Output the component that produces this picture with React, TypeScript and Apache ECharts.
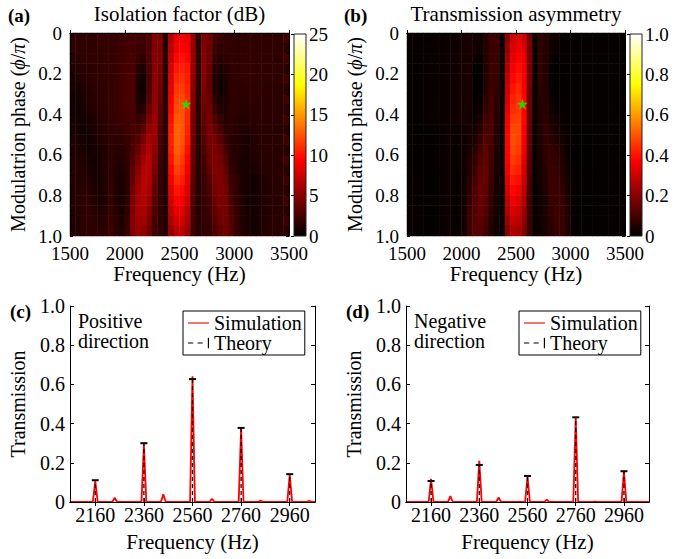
import React, { useEffect, useRef } from 'react';
import * as echarts from 'echarts';

const SERIF = 'Liberation Serif';

// ---------- Heat-map data (panels a, b) ----------
// column centre frequencies (Hz) and row centre phases (phi/pi)
const heatFreqs = [1525, 1575, 1625, 1675, 1725, 1775, 1825, 1875, 1925, 1975, 2025, 2075, 2125, 2175, 2225, 2275, 2325, 2375, 2425, 2475, 2525, 2575, 2625, 2675, 2725, 2775, 2825, 2875, 2925, 2975, 3025, 3075, 3125, 3175, 3225, 3275, 3325, 3375, 3425, 3475];
const heatPhases = [0.025, 0.075, 0.125, 0.175, 0.225, 0.275, 0.325, 0.375, 0.425, 0.475, 0.525, 0.575, 0.625, 0.675, 0.725, 0.775, 0.825, 0.875, 0.925, 0.975];

// (a) Isolation factor (dB), rows = phase, columns = frequency
const isolationDb: number[][] = [
  [1.7, 1.7, 1.7, 1.7, 1.7, 1.9, 1.9, 1.9, 2.0, 2.2, 2.3, 2.4, 2.3, 2.4, 3.0, 4.6, 4.6, 1.3, 6.5, 8.5, 9.0, 8.5, 5.5, 1.5, 4.6, 4.0, 2.6, 2.0, 1.8, 1.8, 1.7, 1.7, 1.7, 1.7, 1.7, 1.7, 1.7, 1.7, 1.7, 2.4],
  [1.7, 1.7, 1.7, 1.7, 1.7, 1.9, 1.9, 1.9, 2.0, 2.2, 2.5, 2.5, 2.2, 2.2, 3.0, 4.7, 4.7, 1.3, 7.0, 9.0, 9.5, 9.0, 5.6, 1.5, 4.8, 4.0, 2.3, 1.8, 1.8, 1.8, 1.7, 1.7, 1.8, 1.8, 1.7, 1.7, 1.7, 1.7, 1.7, 1.5],
  [1.5, 1.5, 1.6, 1.7, 1.7, 1.8, 1.9, 1.9, 2.0, 2.2, 2.5, 2.6, 1.9, 1.7, 3.0, 4.8, 4.7, 1.3, 7.4, 9.6, 10.2, 9.5, 5.6, 1.5, 4.9, 4.0, 2.0, 1.4, 1.6, 1.8, 1.7, 1.8, 1.8, 1.8, 1.7, 1.7, 1.7, 1.7, 1.7, 2.4],
  [1.3, 1.4, 1.5, 1.6, 1.7, 1.8, 1.9, 1.9, 2.0, 2.3, 2.6, 2.7, 1.5, 1.1, 2.9, 4.9, 4.6, 1.3, 7.8, 10.2, 10.7, 10.0, 5.5, 1.5, 4.9, 3.8, 1.6, 1.0, 1.3, 1.8, 1.7, 1.8, 1.8, 1.8, 1.7, 1.7, 1.7, 1.7, 1.7, 1.5],
  [1.0, 1.2, 1.4, 1.5, 1.7, 1.8, 1.9, 1.9, 2.1, 2.4, 2.7, 2.8, 1.1, 0.7, 2.8, 5.0, 4.4, 1.3, 8.2, 10.8, 11.2, 10.3, 5.3, 1.5, 4.8, 3.6, 1.3, 0.7, 1.1, 1.7, 1.7, 1.7, 1.8, 1.8, 1.7, 1.7, 1.7, 1.7, 1.7, 2.4],
  [0.9, 0.9, 1.2, 1.4, 1.6, 1.7, 1.8, 1.9, 2.1, 2.4, 2.7, 2.8, 0.9, 0.6, 2.9, 5.1, 4.2, 1.3, 8.6, 11.3, 11.6, 10.6, 5.1, 1.5, 4.6, 3.6, 1.3, 0.6, 1.0, 1.7, 1.6, 1.6, 1.7, 1.7, 1.7, 1.7, 1.6, 1.6, 1.6, 1.5],
  [0.7, 0.8, 1.0, 1.3, 1.5, 1.7, 1.8, 1.9, 2.1, 2.4, 2.7, 2.8, 1.0, 0.8, 3.2, 5.3, 3.9, 1.3, 9.0, 11.8, 12.0, 10.8, 4.9, 1.5, 4.3, 3.8, 1.6, 0.8, 1.1, 1.7, 1.6, 1.6, 1.6, 1.7, 1.7, 1.6, 1.6, 1.6, 1.6, 2.4],
  [0.7, 0.7, 0.9, 1.1, 1.4, 1.6, 1.7, 1.9, 2.1, 2.3, 2.6, 2.7, 1.4, 1.5, 3.8, 5.6, 3.6, 1.3, 9.4, 12.2, 12.3, 10.9, 4.7, 1.5, 4.0, 4.0, 2.2, 1.3, 1.2, 1.7, 1.6, 1.5, 1.5, 1.6, 1.6, 1.6, 1.6, 1.6, 1.6, 1.5],
  [0.9, 0.7, 0.8, 0.9, 1.2, 1.5, 1.7, 1.8, 2.0, 2.2, 2.5, 2.6, 2.0, 2.5, 4.6, 5.8, 3.3, 1.3, 9.8, 12.6, 12.5, 10.8, 4.5, 1.5, 3.7, 4.3, 2.9, 1.9, 1.4, 1.6, 1.5, 1.4, 1.4, 1.5, 1.6, 1.6, 1.6, 1.6, 1.6, 2.4],
  [1.0, 0.9, 0.7, 0.8, 1.0, 1.4, 1.6, 1.7, 1.8, 1.9, 2.2, 2.5, 2.6, 3.4, 5.4, 5.8, 3.0, 1.3, 10.2, 12.9, 12.6, 10.6, 4.3, 1.5, 3.4, 4.4, 3.6, 2.6, 1.6, 1.6, 1.4, 1.3, 1.3, 1.4, 1.5, 1.5, 1.5, 1.5, 1.5, 1.5],
  [1.2, 1.0, 0.8, 0.7, 0.9, 1.2, 1.5, 1.7, 1.6, 1.7, 2.0, 2.6, 3.2, 4.4, 6.0, 5.6, 2.8, 1.3, 10.4, 13.0, 12.5, 10.3, 4.1, 1.5, 3.1, 4.4, 4.2, 3.3, 2.0, 1.5, 1.4, 1.1, 1.0, 1.2, 1.4, 1.5, 1.5, 1.5, 1.5, 2.4],
  [1.3, 1.2, 0.9, 0.7, 0.8, 1.0, 1.4, 1.7, 1.5, 1.5, 1.9, 2.7, 3.8, 5.3, 6.4, 5.3, 2.6, 1.3, 10.3, 12.8, 12.2, 9.9, 3.9, 1.5, 2.8, 4.2, 4.6, 3.9, 2.5, 1.5, 1.4, 1.1, 1.0, 1.2, 1.4, 1.5, 1.5, 1.5, 1.5, 1.5],
  [1.4, 1.3, 1.1, 0.9, 0.7, 0.9, 1.4, 1.7, 1.4, 1.2, 1.8, 3.0, 4.4, 6.0, 6.6, 4.9, 2.4, 1.3, 10.0, 12.3, 11.7, 9.4, 3.7, 1.5, 2.5, 3.9, 4.8, 4.3, 3.0, 1.6, 1.4, 1.0, 0.9, 1.1, 1.4, 1.5, 1.5, 1.5, 1.5, 2.4],
  [1.4, 1.4, 1.3, 1.0, 0.8, 0.9, 1.3, 1.8, 1.3, 1.0, 1.7, 3.4, 5.0, 6.5, 6.6, 4.5, 2.2, 1.3, 9.5, 11.7, 11.1, 8.9, 3.5, 1.5, 2.3, 3.5, 4.8, 4.6, 3.5, 1.8, 1.4, 1.0, 0.9, 1.0, 1.3, 1.5, 1.5, 1.5, 1.5, 1.5],
  [1.4, 1.4, 1.4, 1.2, 0.9, 0.9, 1.2, 1.8, 1.2, 0.9, 1.6, 3.8, 5.5, 6.8, 6.4, 4.1, 2.1, 1.3, 9.0, 11.0, 10.4, 8.4, 3.3, 1.5, 2.1, 3.1, 4.6, 4.7, 3.9, 2.1, 1.7, 1.1, 0.8, 0.7, 0.9, 1.2, 1.4, 1.5, 1.5, 2.4],
  [1.3, 1.4, 1.5, 1.4, 1.1, 1.0, 1.2, 1.9, 1.2, 0.9, 1.6, 4.2, 5.8, 6.8, 6.0, 3.7, 2.0, 1.3, 8.4, 10.2, 9.7, 7.9, 3.1, 1.5, 2.0, 2.8, 4.3, 4.7, 4.2, 2.4, 1.7, 1.1, 0.8, 0.7, 0.9, 1.2, 1.4, 1.5, 1.5, 1.5],
  [1.3, 1.4, 1.6, 1.6, 1.3, 1.0, 1.3, 1.9, 1.3, 0.9, 1.7, 4.5, 6.0, 6.6, 5.5, 3.3, 1.9, 1.3, 7.7, 9.4, 9.0, 7.4, 2.9, 1.5, 1.9, 2.5, 3.9, 4.5, 4.3, 2.7, 1.8, 1.2, 0.8, 0.7, 0.9, 1.2, 1.4, 1.5, 1.5, 2.4],
  [1.3, 1.4, 1.6, 1.7, 1.5, 1.2, 1.4, 2.0, 1.4, 1.0, 1.8, 4.7, 6.0, 6.3, 5.0, 2.9, 1.8, 1.3, 7.0, 8.6, 8.3, 6.8, 2.7, 1.5, 1.8, 2.3, 3.5, 4.3, 4.3, 2.9, 1.9, 1.2, 0.8, 0.7, 0.9, 1.2, 1.4, 1.5, 1.5, 1.5],
  [1.2, 1.3, 1.6, 1.7, 1.6, 1.4, 1.6, 2.1, 1.5, 1.0, 2.0, 4.8, 5.8, 5.8, 4.5, 2.6, 1.8, 1.3, 6.3, 7.8, 7.6, 6.2, 2.5, 1.5, 1.8, 2.1, 3.2, 4.0, 4.2, 3.0, 2.0, 1.3, 0.9, 0.7, 0.9, 1.2, 1.4, 1.5, 1.5, 2.4],
  [1.2, 1.3, 1.6, 1.7, 1.7, 1.6, 1.7, 2.2, 1.6, 1.2, 2.1, 4.7, 5.5, 5.3, 4.1, 2.4, 1.8, 1.3, 5.6, 7.0, 6.9, 5.6, 2.3, 1.5, 1.8, 2.0, 2.9, 3.6, 4.0, 3.0, 2.0, 1.3, 0.9, 0.7, 0.9, 1.2, 1.4, 1.5, 1.5, 1.5],
];

// (b) Transmission asymmetry
const asymmetry: number[][] = [
  [0.012, 0.012, 0.012, 0.012, 0.012, 0.015, 0.016, 0.018, 0.02, 0.024, 0.028, 0.035, 0.03, 0.03, 0.05, 0.085, 0.09, 0.015, 0.20, 0.30, 0.33, 0.30, 0.17, 0.015, 0.07, 0.055, 0.03, 0.02, 0.012, 0.012, 0.01, 0.01, 0.01, 0.01, 0.01, 0.01, 0.01, 0.01, 0.01, 0.012],
  [0.012, 0.012, 0.012, 0.012, 0.012, 0.015, 0.016, 0.018, 0.02, 0.024, 0.028, 0.035, 0.03, 0.02, 0.05, 0.085, 0.09, 0.015, 0.22, 0.32, 0.35, 0.32, 0.18, 0.015, 0.075, 0.055, 0.025, 0.015, 0.012, 0.012, 0.01, 0.01, 0.01, 0.01, 0.01, 0.01, 0.01, 0.01, 0.01, 0.008],
  [0.008, 0.008, 0.01, 0.012, 0.013, 0.015, 0.016, 0.02, 0.024, 0.028, 0.032, 0.035, 0.02, 0.01, 0.05, 0.085, 0.09, 0.015, 0.24, 0.34, 0.37, 0.34, 0.18, 0.015, 0.075, 0.052, 0.02, 0.01, 0.01, 0.012, 0.01, 0.01, 0.01, 0.01, 0.01, 0.01, 0.01, 0.01, 0.01, 0.012],
  [0.008, 0.008, 0.01, 0.012, 0.013, 0.015, 0.016, 0.02, 0.024, 0.028, 0.032, 0.035, 0.01, 0.008, 0.05, 0.09, 0.085, 0.015, 0.26, 0.36, 0.39, 0.35, 0.175, 0.015, 0.075, 0.05, 0.015, 0.005, 0.008, 0.012, 0.01, 0.01, 0.01, 0.01, 0.01, 0.01, 0.01, 0.01, 0.01, 0.008],
  [0.008, 0.008, 0.01, 0.012, 0.013, 0.015, 0.016, 0.02, 0.024, 0.028, 0.032, 0.035, 0.008, 0.0, 0.05, 0.09, 0.08, 0.015, 0.28, 0.38, 0.41, 0.36, 0.17, 0.015, 0.072, 0.048, 0.012, 0.004, 0.007, 0.012, 0.01, 0.01, 0.01, 0.01, 0.01, 0.01, 0.01, 0.01, 0.01, 0.012],
  [0.008, 0.008, 0.01, 0.012, 0.013, 0.015, 0.016, 0.02, 0.024, 0.028, 0.032, 0.035, 0.008, 0.0, 0.055, 0.095, 0.075, 0.015, 0.30, 0.40, 0.43, 0.37, 0.165, 0.015, 0.068, 0.05, 0.014, 0.005, 0.007, 0.012, 0.01, 0.01, 0.01, 0.01, 0.01, 0.01, 0.01, 0.01, 0.01, 0.008],
  [0.008, 0.008, 0.01, 0.012, 0.013, 0.015, 0.016, 0.02, 0.024, 0.028, 0.032, 0.035, 0.01, 0.01, 0.065, 0.10, 0.07, 0.015, 0.32, 0.42, 0.45, 0.38, 0.16, 0.015, 0.062, 0.055, 0.02, 0.008, 0.008, 0.012, 0.01, 0.01, 0.01, 0.01, 0.01, 0.01, 0.01, 0.01, 0.01, 0.012],
  [0.008, 0.008, 0.01, 0.012, 0.013, 0.015, 0.016, 0.02, 0.024, 0.028, 0.032, 0.03, 0.015, 0.02, 0.08, 0.105, 0.065, 0.015, 0.34, 0.44, 0.46, 0.38, 0.155, 0.015, 0.056, 0.06, 0.03, 0.014, 0.01, 0.012, 0.01, 0.01, 0.01, 0.01, 0.01, 0.01, 0.01, 0.01, 0.01, 0.008],
  [0.008, 0.008, 0.01, 0.012, 0.013, 0.015, 0.016, 0.02, 0.024, 0.028, 0.032, 0.03, 0.022, 0.04, 0.095, 0.11, 0.06, 0.015, 0.36, 0.46, 0.47, 0.38, 0.15, 0.015, 0.052, 0.066, 0.042, 0.024, 0.014, 0.012, 0.01, 0.01, 0.01, 0.01, 0.01, 0.01, 0.01, 0.01, 0.01, 0.012],
  [0.01, 0.008, 0.006, 0.006, 0.008, 0.012, 0.016, 0.02, 0.016, 0.014, 0.025, 0.03, 0.034, 0.06, 0.11, 0.11, 0.055, 0.015, 0.37, 0.48, 0.48, 0.37, 0.14, 0.015, 0.048, 0.07, 0.055, 0.036, 0.02, 0.012, 0.01, 0.01, 0.01, 0.01, 0.01, 0.01, 0.01, 0.01, 0.01, 0.008],
  [0.01, 0.008, 0.006, 0.006, 0.008, 0.012, 0.016, 0.02, 0.016, 0.014, 0.025, 0.032, 0.045, 0.08, 0.125, 0.105, 0.05, 0.015, 0.38, 0.49, 0.47, 0.36, 0.135, 0.015, 0.044, 0.072, 0.066, 0.048, 0.028, 0.014, 0.01, 0.008, 0.008, 0.008, 0.01, 0.01, 0.01, 0.01, 0.01, 0.012],
  [0.01, 0.008, 0.006, 0.006, 0.008, 0.012, 0.016, 0.02, 0.016, 0.014, 0.025, 0.036, 0.058, 0.1, 0.135, 0.1, 0.045, 0.015, 0.38, 0.48, 0.46, 0.35, 0.13, 0.015, 0.04, 0.07, 0.075, 0.06, 0.038, 0.016, 0.01, 0.008, 0.008, 0.008, 0.01, 0.01, 0.01, 0.01, 0.01, 0.008],
  [0.01, 0.008, 0.006, 0.006, 0.008, 0.012, 0.016, 0.02, 0.016, 0.014, 0.025, 0.042, 0.072, 0.12, 0.14, 0.095, 0.04, 0.015, 0.37, 0.46, 0.44, 0.33, 0.125, 0.015, 0.036, 0.066, 0.08, 0.07, 0.048, 0.02, 0.01, 0.008, 0.008, 0.008, 0.01, 0.01, 0.01, 0.01, 0.01, 0.012],
  [0.01, 0.008, 0.006, 0.006, 0.008, 0.012, 0.016, 0.02, 0.016, 0.014, 0.025, 0.05, 0.088, 0.135, 0.145, 0.09, 0.04, 0.015, 0.35, 0.44, 0.42, 0.31, 0.12, 0.015, 0.033, 0.06, 0.084, 0.078, 0.056, 0.025, 0.011, 0.008, 0.007, 0.007, 0.009, 0.01, 0.011, 0.012, 0.012, 0.008],
  [0.012, 0.012, 0.01, 0.008, 0.008, 0.01, 0.016, 0.022, 0.016, 0.01, 0.028, 0.06, 0.1, 0.145, 0.145, 0.085, 0.035, 0.015, 0.33, 0.41, 0.39, 0.29, 0.11, 0.015, 0.03, 0.055, 0.085, 0.085, 0.065, 0.03, 0.012, 0.008, 0.006, 0.006, 0.008, 0.01, 0.011, 0.012, 0.012, 0.012],
  [0.012, 0.012, 0.01, 0.008, 0.008, 0.01, 0.016, 0.022, 0.016, 0.01, 0.028, 0.07, 0.112, 0.15, 0.14, 0.075, 0.035, 0.015, 0.31, 0.38, 0.36, 0.27, 0.10, 0.015, 0.028, 0.05, 0.082, 0.09, 0.072, 0.036, 0.012, 0.008, 0.006, 0.006, 0.008, 0.01, 0.011, 0.012, 0.012, 0.008],
  [0.012, 0.012, 0.01, 0.008, 0.008, 0.01, 0.016, 0.022, 0.016, 0.01, 0.028, 0.08, 0.12, 0.15, 0.13, 0.07, 0.03, 0.015, 0.28, 0.35, 0.33, 0.25, 0.095, 0.015, 0.026, 0.046, 0.076, 0.09, 0.078, 0.042, 0.012, 0.008, 0.006, 0.006, 0.008, 0.01, 0.011, 0.012, 0.012, 0.012],
  [0.012, 0.012, 0.01, 0.008, 0.008, 0.01, 0.016, 0.022, 0.016, 0.01, 0.028, 0.085, 0.125, 0.145, 0.12, 0.065, 0.03, 0.015, 0.26, 0.32, 0.30, 0.23, 0.09, 0.015, 0.024, 0.042, 0.07, 0.088, 0.082, 0.047, 0.012, 0.008, 0.006, 0.006, 0.008, 0.01, 0.011, 0.012, 0.012, 0.008],
  [0.012, 0.012, 0.01, 0.008, 0.008, 0.01, 0.016, 0.022, 0.016, 0.01, 0.028, 0.09, 0.125, 0.135, 0.11, 0.055, 0.03, 0.015, 0.23, 0.29, 0.27, 0.21, 0.085, 0.015, 0.022, 0.04, 0.065, 0.084, 0.084, 0.05, 0.012, 0.008, 0.006, 0.006, 0.008, 0.01, 0.011, 0.012, 0.012, 0.012],
  [0.012, 0.012, 0.01, 0.008, 0.008, 0.01, 0.016, 0.022, 0.016, 0.01, 0.028, 0.09, 0.12, 0.125, 0.1, 0.05, 0.03, 0.015, 0.20, 0.26, 0.25, 0.19, 0.08, 0.015, 0.02, 0.038, 0.06, 0.078, 0.082, 0.052, 0.012, 0.008, 0.006, 0.006, 0.008, 0.01, 0.011, 0.012, 0.012, 0.008],
];

const heatFreqTicks = [1500, 2000, 2500, 3000, 3500];
const operatingPoint = [2560, 0.35]; // green star (Hz, phi/pi)

// ---------- Transmission spectra (panels c, d) ----------
const stemFreqs = [2160, 2360, 2560, 2760, 2960];
const theoryPositive = [0.111, 0.300, 0.627, 0.378, 0.142];
const theoryNegative = [0.107, 0.189, 0.133, 0.432, 0.157];

const simFreqs = [2056, 2150, 2160, 2170, 2230, 2240, 2250, 2350, 2360, 2370, 2430, 2440, 2450, 2550, 2560, 2570, 2630, 2640, 2650, 2750, 2760, 2770, 2830, 2840, 2850, 2950, 2960, 2970, 3030, 3040, 3050, 3064];
const simPositive = [0, 0, 0.107, 0, 0, 0.022, 0, 0, 0.294, 0, 0, 0.039, 0, 0, 0.641, 0, 0, 0.017, 0, 0, 0.375, 0, 0, 0.008, 0, 0, 0.140, 0, 0, 0.006, 0, 0];
const simNegative = [0, 0, 0.118, 0, 0, 0.030, 0, 0, 0.210, 0, 0, 0.023, 0, 0, 0.130, 0, 0, 0.012, 0, 0, 0.430, 0, 0, 0.002, 0, 0, 0.155, 0, 0, 0.001, 0, 0];
const spectrumTicks = [2160, 2360, 2560, 2760, 2960];

// MATLAB "hot" colormap (evenly spaced stops)
const HOT = ['#000000', '#550000', '#aa0000', '#ff0000', '#ff5500', '#ffaa00', '#ffff00', '#ffff80', '#ffffff'];

const STAR = 'path://M50,0L61.8,35.1L98.9,35.1L68.9,56.8L80.3,91.9L50,70.2L19.7,91.9L31.1,56.8L1.1,35.1L38.2,35.1Z';
const SIM_ICON = 'path://M0,6.3H30V7.9H0Z';
const THEORY_ICON = 'path://M0,6.3H7V7.7H0Z M13,6.3H20V7.7H13Z M27,0H28.6V14H27Z';

const fmt1 = (v: number) => (v === 0 ? '0' : v.toFixed(1));
const fmtInt = (v: number) => String(Math.round(v));

function heatData(grid: number[][]) {
  const out: number[][] = [];
  grid.forEach((row, j) => row.forEach((v, k) => out.push([k, j, v])));
  return out;
}

const BLACK = '#000';
const line = { show: true, lineStyle: { color: BLACK, width: 1 } };

function buildOption() {
  const panels = [
    { left: 70, width: 219, cbLeft: 294, max: 25, interval: 5, cbFmt: fmtInt },
    { left: 407, width: 218, cbLeft: 630, max: 1, interval: 0.2, cbFmt: fmt1 },
  ];
  const grids: any[] = [];
  const xAxes: any[] = [];
  const yAxes: any[] = [];
  const series: any[] = [];
  const visualMaps: any[] = [];

  panels.forEach((p, i) => {
    const gCat = grids.length;
    grids.push({ left: p.left, top: 33, width: p.width, height: 203, show: false });
    const gVal = grids.length;
    grids.push({ left: p.left, top: 33, width: p.width, height: 203, show: false });
    const gCb = grids.length;
    grids.push({
      left: p.cbLeft, top: 34, width: 12, height: 202, show: true,
      borderColor: '#222', borderWidth: 1,
      backgroundColor: new echarts.graphic.LinearGradient(0, 0, 0, 1, [
        { offset: 0, color: '#ffffff' },
        { offset: 0.25, color: '#ffff00' },
        { offset: 0.625, color: '#ff0000' },
        { offset: 1, color: '#000000' },
      ]),
    });

    const xCat = xAxes.length;
    xAxes.push({ type: 'category', gridIndex: gCat, data: heatFreqs, show: false });
    const yCat = yAxes.length;
    yAxes.push({ type: 'category', gridIndex: gCat, data: heatPhases, inverse: true, show: false });

    const xVal = xAxes.length;
    xAxes.push({
      type: 'value', gridIndex: gVal, min: heatFreqTicks[0], max: heatFreqTicks[heatFreqTicks.length - 1], interval: 500,
      position: 'bottom', z: 10, axisLine: line,
      axisTick: { show: true, inside: true, length: 3, lineStyle: { color: BLACK } },
      axisLabel: { color: BLACK, fontSize: 19, fontFamily: SERIF, margin: 8, formatter: fmtInt },
      splitLine: { show: false },
      name: 'Frequency (Hz)', nameLocation: 'middle', nameGap: 27,
      nameTextStyle: { color: BLACK, fontSize: 21, fontFamily: SERIF },
    });
    xAxes.push({
      type: 'value', gridIndex: gVal, min: 1500, max: 3500, interval: 500, position: 'top', z: 10,
      axisLine: line, axisTick: { show: true, inside: true, length: 3, lineStyle: { color: BLACK } },
      axisLabel: { show: false }, splitLine: { show: false },
    });
    const yVal = yAxes.length;
    yAxes.push({
      type: 'value', gridIndex: gVal, min: 0, max: 1, interval: 0.2, inverse: true, position: 'left', z: 10,
      axisLine: line, axisTick: { show: true, inside: true, length: 3, lineStyle: { color: BLACK } },
      minorTick: { show: true, splitNumber: 2, length: 3, lineStyle: { color: BLACK } },
      axisLabel: { color: BLACK, fontSize: 19, fontFamily: SERIF, margin: 8, formatter: fmt1 },
      splitLine: { show: false },
      name: 'Modulatrion phase ({i|ϕ}/{i|π})', nameLocation: 'middle', nameGap: 42,
      nameTextStyle: {
        color: BLACK, fontSize: 20, fontFamily: SERIF,
        rich: { i: { fontStyle: 'italic', fontSize: 20, fontFamily: SERIF, color: BLACK } },
      },
    });
    yAxes.push({
      type: 'value', gridIndex: gVal, min: 0, max: 1, interval: 0.2, inverse: true, position: 'right', z: 10,
      axisLine: line, axisTick: { show: true, inside: true, length: 3, lineStyle: { color: BLACK } },
      minorTick: { show: true, splitNumber: 2, length: 3, lineStyle: { color: BLACK } },
      axisLabel: { show: false }, splitLine: { show: false },
    });

    xAxes.push({ type: 'value', gridIndex: gCb, show: false, min: 0, max: 1 });
    yAxes.push({
      type: 'value', gridIndex: gCb, min: 0, max: p.max, interval: p.interval, position: 'right', z: 10,
      axisLine: { show: false },
      axisTick: { show: true, inside: true, length: 3, lineStyle: { color: BLACK } },
      axisLabel: { color: BLACK, fontSize: 19, fontFamily: SERIF, margin: 3, formatter: p.cbFmt },
      splitLine: { show: false },
    });

    visualMaps.push({
      type: 'continuous', show: false, min: 0, max: p.max, dimension: 2,
      seriesIndex: series.length, inRange: { color: HOT },
    });
    series.push({
      type: 'heatmap', xAxisIndex: xCat, yAxisIndex: yCat,
      data: heatData(i === 0 ? isolationDb : asymmetry),
      silent: true, emphasis: { disabled: true }, progressive: 0,
    });
    series.push({
      type: 'scatter', xAxisIndex: xVal, yAxisIndex: yVal, z: 20,
      data: [operatingPoint], symbol: STAR, symbolSize: 11,
      itemStyle: { color: '#00ff00' }, silent: true,
    });
  });

  const bottom = [
    { left: 70, width: 245, sim: simPositive, theory: theoryPositive, legendLeft: 183 },
    { left: 406, width: 243, sim: simNegative, theory: theoryNegative, legendLeft: 519 },
  ];
  const legends: any[] = [];
  bottom.forEach((b) => {
    const g = grids.length;
    grids.push({ left: b.left, top: 306, width: b.width, height: 196, show: false });
    const xi = xAxes.length;
    xAxes.push({
      type: 'value', gridIndex: g, min: simFreqs[0], max: simFreqs[simFreqs.length - 1], position: 'bottom', z: 10,
      axisLine: line,
      axisTick: { show: true, inside: true, length: 4, customValues: spectrumTicks, lineStyle: { color: BLACK } },
      axisLabel: { color: BLACK, fontSize: 20, fontFamily: SERIF, margin: 3, customValues: spectrumTicks, formatter: fmtInt },
      splitLine: { show: false },
      name: 'Frequency (Hz)', nameLocation: 'middle', nameGap: 29,
      nameTextStyle: { color: BLACK, fontSize: 21, fontFamily: SERIF },
    });
    xAxes.push({
      type: 'value', gridIndex: g, min: simFreqs[0], max: simFreqs[simFreqs.length - 1], position: 'top', z: 10,
      axisLine: line,
      axisTick: { show: true, inside: true, length: 4, customValues: spectrumTicks, lineStyle: { color: BLACK } },
      axisLabel: { show: false, customValues: spectrumTicks }, splitLine: { show: false },
    });
    const yi = yAxes.length;
    yAxes.push({
      type: 'value', gridIndex: g, min: 0, max: 1, interval: 0.2, position: 'left', z: 10,
      axisLine: line, axisTick: { show: true, inside: true, length: 4, lineStyle: { color: BLACK } },
      axisLabel: { color: BLACK, fontSize: 20, fontFamily: SERIF, margin: 5, formatter: fmt1 },
      splitLine: { show: false },
      name: 'Transmission', nameLocation: 'middle', nameGap: 42,
      nameTextStyle: { color: BLACK, fontSize: 20, fontFamily: SERIF },
    });
    yAxes.push({
      type: 'value', gridIndex: g, min: 0, max: 1, interval: 0.2, position: 'right', z: 10,
      axisLine: line, axisTick: { show: true, inside: true, length: 4, lineStyle: { color: BLACK } },
      axisLabel: { show: false }, splitLine: { show: false },
    });
    series.push({
      name: 'Simulation', type: 'line', xAxisIndex: xi, yAxisIndex: yi, symbol: 'none', z: 3,
      data: simFreqs.map((f, i) => [f, b.sim[i]]),
      lineStyle: { color: '#ff0000', width: 1.8 }, itemStyle: { color: '#ff0000' }, silent: true,
    });
    series.push({
      name: 'Theory', type: 'custom', xAxisIndex: xi, yAxisIndex: yi, z: 4, silent: true,
      itemStyle: { color: BLACK },
      data: stemFreqs.map((f, i) => [f, b.theory[i]]),
      renderItem: (_params: any, api: any) => {
        const x = api.value(0);
        const y = api.value(1);
        const p0 = api.coord([x, 0]);
        const p1 = api.coord([x, y]);
        return {
          type: 'group',
          children: [
            { type: 'line', shape: { x1: p0[0], y1: p0[1], x2: p1[0], y2: p1[1] }, style: { stroke: BLACK, lineWidth: 1.2, lineDash: [4, 3] } },
            { type: 'line', shape: { x1: p1[0] - 3.5, y1: p1[1], x2: p1[0] + 3.5, y2: p1[1] }, style: { stroke: BLACK, lineWidth: 2 } },
          ],
        };
      },
    });
    legends.push({
      left: b.legendLeft, top: 311, orient: 'vertical', itemGap: 0, itemWidth: 21, itemHeight: 12,
      padding: [2, 3, 2, 5], borderColor: BLACK, borderWidth: 1, backgroundColor: '#fff',
      selectedMode: false,
      textStyle: { color: BLACK, fontSize: 20, fontFamily: SERIF, lineHeight: 19 },
      data: [
        { name: 'Simulation', icon: SIM_ICON, itemStyle: { color: '#ff0000' } },
        { name: 'Theory', icon: THEORY_ICON, itemStyle: { color: BLACK } },
      ],
    });
  });

  const txt = (text: string, x: number, y: number, size: number, opts: any = {}) => ({
    type: 'text', x, y, silent: true,
    style: { text, fill: BLACK, fontSize: size, fontFamily: SERIF, textVerticalAlign: 'top', ...opts },
  });

  return {
    animation: false,
    backgroundColor: '#fff',
    textStyle: { fontFamily: SERIF },
    grid: grids,
    xAxis: xAxes,
    yAxis: yAxes,
    visualMap: visualMaps,
    legend: legends,
    series,
    graphic: [
      txt('(a)', 8, 6, 19, { fontWeight: 'bold' }),
      txt('(b)', 344, 6, 19, { fontWeight: 'bold' }),
      txt('(c)', 10, 302, 19, { fontWeight: 'bold' }),
      txt('(d)', 346, 302, 19, { fontWeight: 'bold' }),
      txt('Isolation factor (dB)', 179.5, 3, 21, { textAlign: 'center' }),
      txt('Transmission asymmetry', 516, 3, 21, { textAlign: 'center' }),
      txt('Positive\ndirection', 78, 311, 20, { lineHeight: 20 }),
      txt('Negative\ndirection', 414, 311, 20, { lineHeight: 20 }),
    ],
  };
}

export default function App() {
  const ref = useRef<HTMLDivElement>(null);
  useEffect(() => {
    if (!ref.current) return;
    const chart = echarts.init(ref.current, undefined, { renderer: 'svg' });
    chart.setOption(buildOption() as any);
    return () => chart.dispose();
  }, []);
  return <div ref={ref} style={{ position: 'fixed', left: 0, top: 0, width: 676, height: 559 }} />;
}
